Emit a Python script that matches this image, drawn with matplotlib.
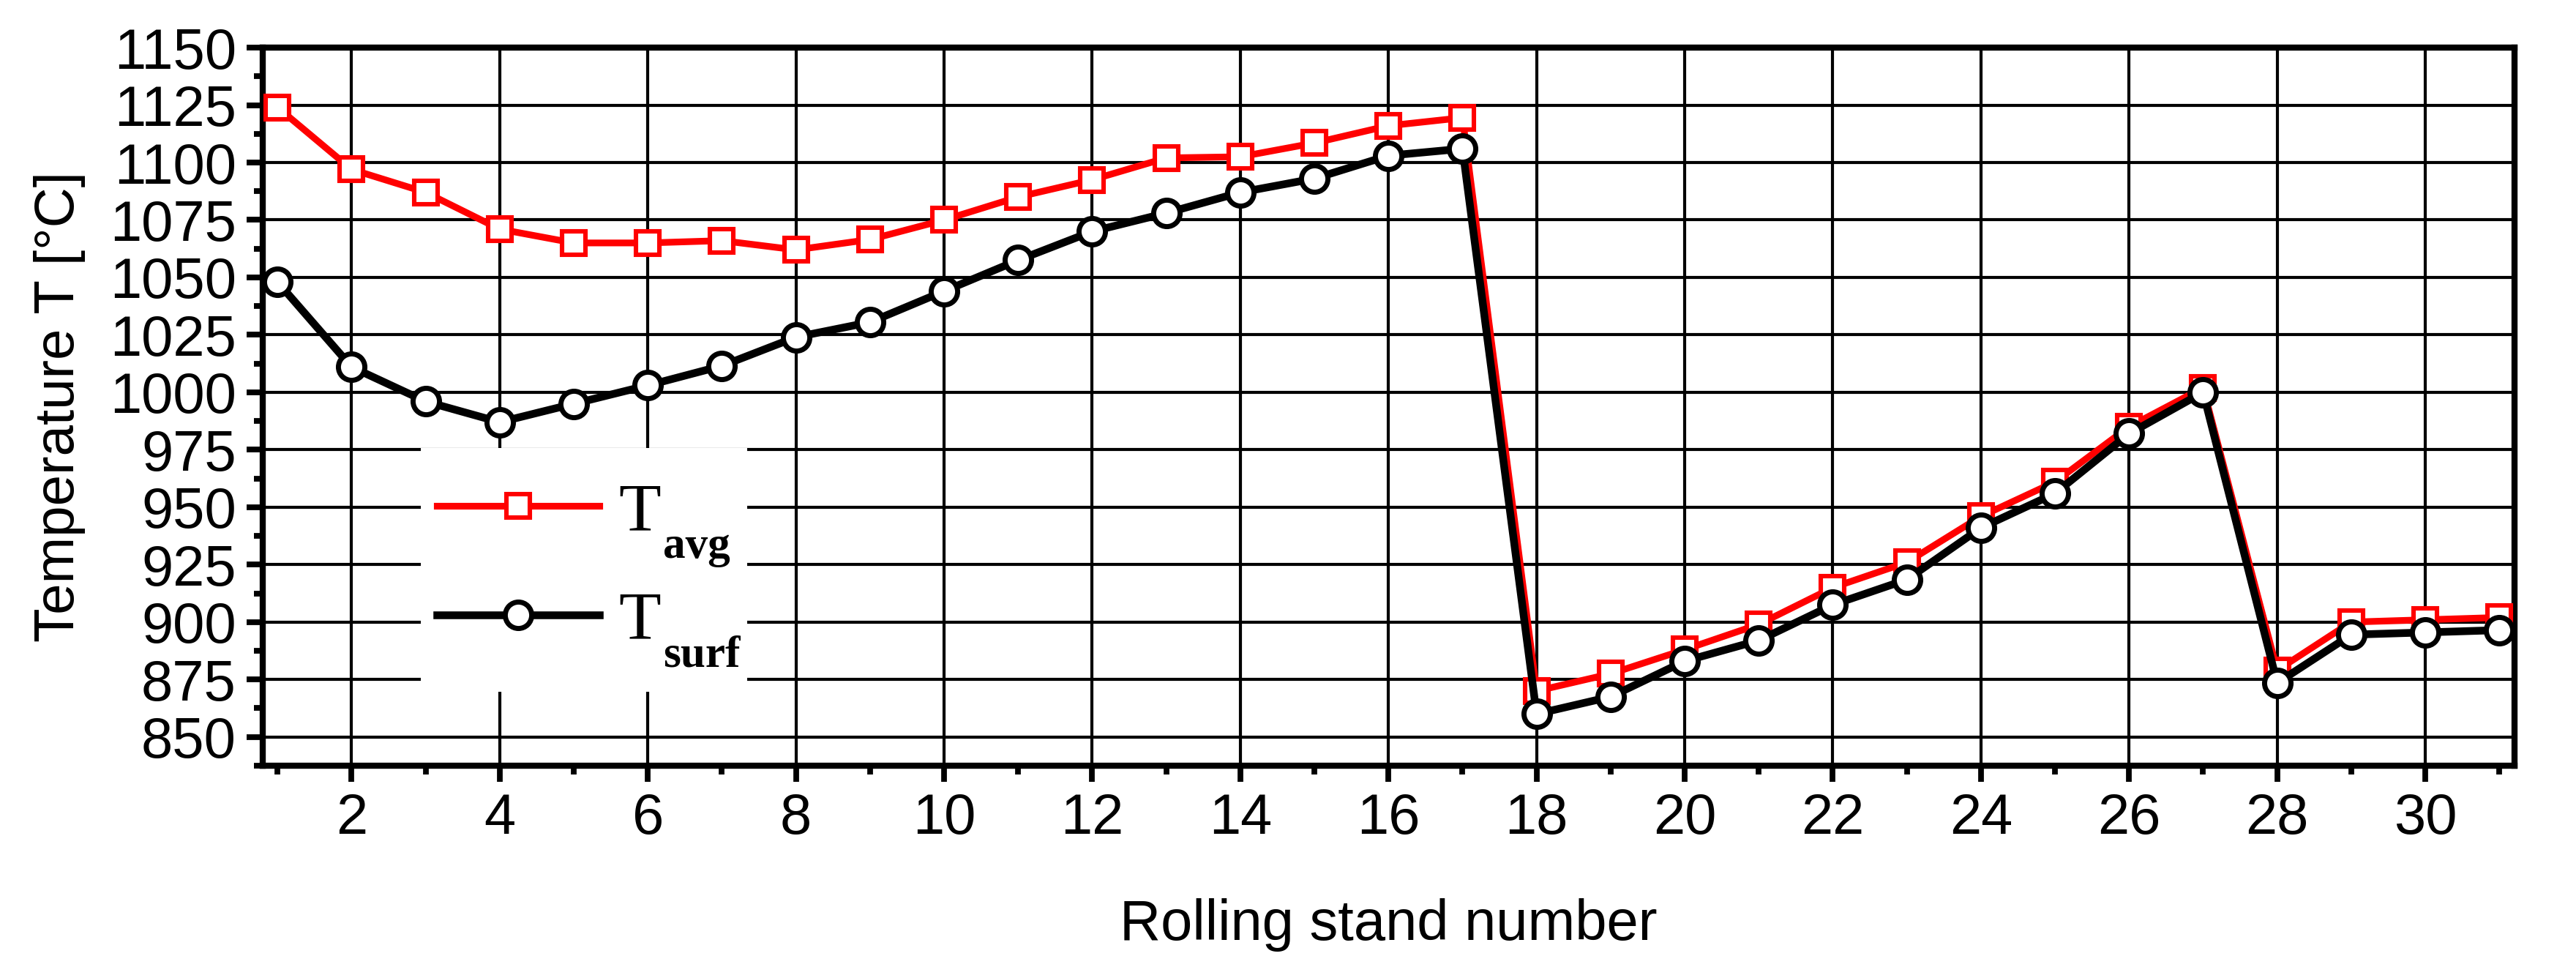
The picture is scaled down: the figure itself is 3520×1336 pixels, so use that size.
import matplotlib
matplotlib.use('Agg')
import matplotlib.pyplot as plt
from matplotlib.ticker import MultipleLocator
from matplotlib.patches import Rectangle

plt.rcParams['font.family'] = ['Liberation Sans', 'DejaVu Sans']

# rolling stands 1..31
stands = list(range(1, 32))
t_avg = [1124, 1097, 1087, 1071, 1065, 1065, 1066, 1062, 1066.5, 1075,
         1085, 1092.5, 1102, 1102.5, 1108.5, 1116, 1119.5, 870, 877.5, 888,
         899, 915, 926, 946, 961, 985, 1002, 879, 900, 901, 902]
t_surf = [1048, 1011, 996, 987, 995, 1003, 1011.5, 1024, 1030.5, 1044,
          1057.5, 1070, 1078, 1087, 1093, 1103, 1106, 860, 867.5, 883,
          892, 907.5, 918.5, 941, 956, 982, 1000, 873.5, 894.5, 895.5, 896.5]
subs = ['avg', 'surf']

fig = plt.figure(figsize=(17.6, 6.68), dpi=200)
ax = fig.add_subplot(111)
fig.subplots_adjust(left=0.102, right=0.976, top=0.9513, bottom=0.2171)

l1, = ax.plot(stands, t_avg, color='#ff0000', lw=3.3, marker='s', ms=11.5,
              mfc='white', mec='#ff0000', mew=2.2, zorder=3)
l2, = ax.plot(stands, t_surf, color='black', lw=3.8, marker='o', ms=13,
              mfc='white', mec='black', mew=2.5, zorder=4)

ax.set_xlim(0.8, 31.2)
ax.set_ylim(837.5, 1150)
ax.xaxis.set_major_locator(MultipleLocator(2))
ax.xaxis.set_minor_locator(MultipleLocator(1))
ax.yaxis.set_major_locator(MultipleLocator(25))
ax.yaxis.set_minor_locator(MultipleLocator(12.5))

ax.grid(True, which='major', color='black', lw=1.5)
for s in ax.spines.values():
    s.set_linewidth(3)
ax.tick_params(which='major', direction='out', length=8, width=2.8, labelsize=28, pad=5)
ax.tick_params(which='minor', direction='out', length=4.2, width=2.8)
ax.tick_params(top=False, right=False)

ax.set_xlabel('Rolling stand number', fontsize=28, labelpad=26)
ax.set_ylabel('Temperature T [°C]', fontsize=27.5, labelpad=12)

# white box behind the legend, hides the grid
ax.add_patch(Rectangle((0.0702, 0.103), 0.1449, 0.3394, transform=ax.transAxes,
                       facecolor='white', edgecolor='none', zorder=2.5))

leg = ax.legend([l1, l2], ['T', 'T'], loc='upper left',
                bbox_to_anchor=(0.0774, 0.3955), borderaxespad=0, borderpad=0,
                frameon=False, handlelength=2.35, handletextpad=0.28,
                labelspacing=0.66, prop={'family': 'Liberation Serif', 'size': 34})
leg.set_zorder(5)
for txt, sub in zip(leg.get_texts(), subs):
    ax.annotate(sub, xy=(1, 0), xycoords=txt, xytext=(1, -6.5),
                textcoords='offset points', ha='left', va='baseline',
                fontsize=22, fontweight='bold', family='Liberation Serif',
                zorder=6, annotation_clip=False)

plt.savefig('out.png', dpi=200)
